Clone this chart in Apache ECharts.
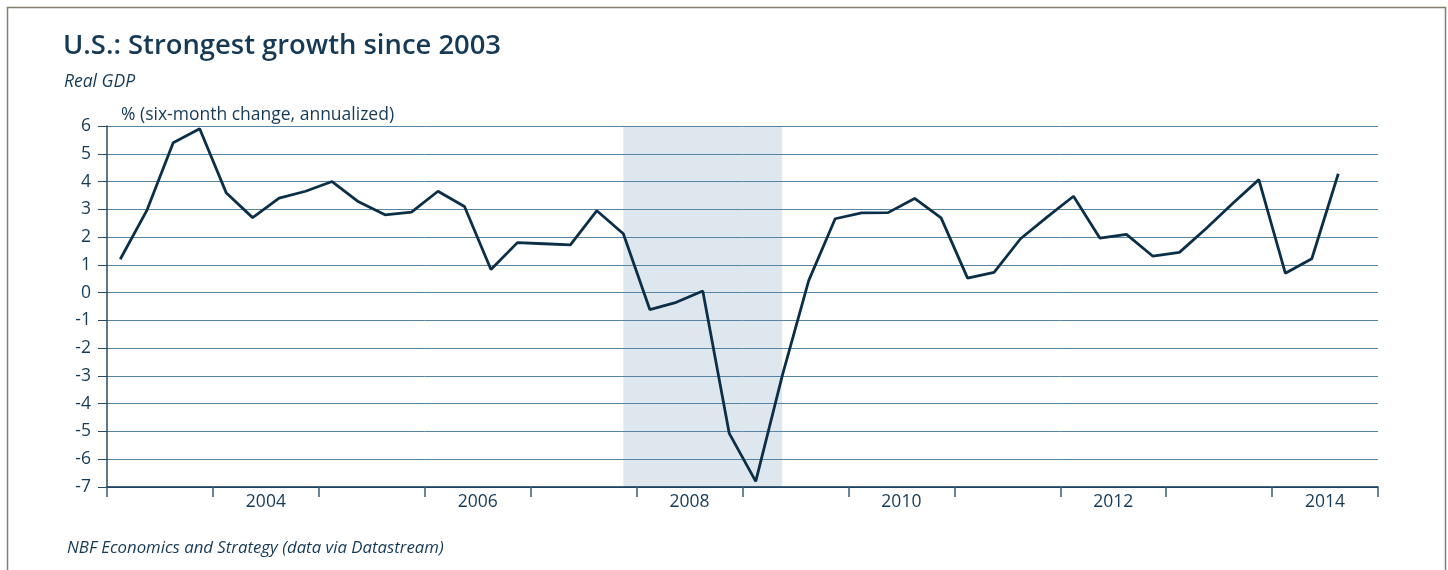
<!DOCTYPE html>
<html>
<head>
<meta charset="utf-8">
<script src="https://cdn.jsdelivr.net/npm/echarts@6/dist/echarts.min.js"></script>
<style>
  html, body { margin: 0; padding: 0; background: #fff; }
  #chart { width: 1448px; height: 570px; }
</style>
</head>
<body>
<div id="chart"></div>
<script>
// quarterly real GDP, six-month change annualized (%)
const years = [2003, 2004, 2005, 2006, 2007, 2008, 2009, 2010, 2011, 2012, 2013, 2014]
const gdp = [
  1.2, 2.95, 5.4, 5.9,
  3.6, 2.7, 3.4, 3.65,
  4.0, 3.27, 2.8, 2.9,
  3.65, 3.1, 0.83, 1.8,
  1.76, 1.72, 2.95, 2.12,
  -0.61, -0.35, 0.06, -5.07,
  -6.8, -3.0, 0.43, 2.66,
  2.87, 2.88, 3.39, 2.69,
  0.52, 0.73, 1.94, 2.72,
  3.47, 1.96, 2.1, 1.31,
  1.45, 2.3, 3.2, 4.07,
  0.7, 1.22, 4.28
]
const yTicks = [-7, -6, -5, -4, -3, -2, -1, 0, 1, 2, 3, 4, 5, 6]
// recession shading: first and last quarter
const recession = [[2007, 4], [2009, 2]]

const textColor = '#163a56'
const lineColor = '#0c2f48'
const font = 'Open Sans'

// quarter -> position in years (middle of quarter)
function qPos(year, q) {
    return year + (q - 0.5) / 4
}

const seriesData = gdp.map((v, i) => {
    return [qPos(years[Math.floor(i / 4)], (i % 4) + 1), v]
})

const chart = echarts.init(document.getElementById('chart'))
const option = {
    backgroundColor: '#fff',
    animation: false,
    textStyle: { fontFamily: font },
    title: [
        {
            text: 'U.S.: Strongest growth since 2003',
            left: 58, top: 28,
            textStyle: { fontFamily: font, fontSize: 27.4, fontWeight: 600, color: textColor }
        },
        {
            text: 'Real GDP',
            left: 59, top: 68,
            textStyle: { fontFamily: font, fontSize: 17.5, fontStyle: 'italic', fontWeight: 'normal', color: textColor }
        },
        {
            text: '% (six-month change, annualized)',
            left: 116, top: 101,
            textStyle: { fontFamily: font, fontSize: 17.5, fontWeight: 'normal', color: textColor }
        },
        {
            text: 'NBF Economics and Strategy (data via Datastream)',
            left: 62, top: 535,
            textStyle: { fontFamily: font, fontSize: 16.8, fontStyle: 'italic', fontWeight: 'normal', color: textColor }
        }
    ],
    graphic: [
        {
            type: 'rect',
            shape: { x: 7.5, y: 7.5, width: 1438, height: 620 },
            style: { fill: null, stroke: '#857d6d', lineWidth: 1.5 },
            silent: true
        }
    ],
    grid: { left: 107, right: 70, top: 126, bottom: 83 },
    xAxis: [
        {
            type: 'value',
            min: years[0],
            max: years[years.length - 1] + 1,
            interval: 1,
            position: 'bottom',
            z: 2,
            axisLine: { show: true, onZero: false, lineStyle: { color: lineColor, width: 1.5 } },
            axisTick: { show: true, length: 10, lineStyle: { color: '#3d5f78', width: 1.5 } },
            axisLabel: { show: false },
            splitLine: { show: false }
        },
        {
            type: 'value',
            min: years[0],
            max: years[years.length - 1] + 1,
            interval: 0.5,
            position: 'bottom',
            axisLine: { show: false },
            axisTick: { show: false },
            splitLine: { show: false },
            axisLabel: {
                margin: 6,
                fontFamily: font,
                fontSize: 17.5,
                color: textColor,
                formatter: function(v) {
                    const y = Math.floor(v)
                    return (v - y === 0.5 && y % 2 === 0) ? String(y) : ''
                }
            }
        }
    ],
    yAxis: {
        type: 'value',
        min: yTicks[0],
        max: yTicks[yTicks.length - 1],
        interval: 1,
        z: 2,
        axisLine: { show: true, lineStyle: { color: '#2b4a62', width: 1.5 } },
        axisTick: { show: true, length: 9, lineStyle: { color: '#2b4a62' } },
        axisLabel: { margin: 16, fontFamily: font, fontSize: 17.5, color: textColor },
        splitLine: { show: true, lineStyle: { color: '#5684a4', width: 1 } }
    },
    series: [
        {
            type: 'line',
            xAxisIndex: 0,
            data: seriesData,
            z: 3,
            symbol: 'none',
            lineStyle: { color: lineColor, width: 2.8 },
            markArea: {
                silent: true,
                z: 1,
                itemStyle: { color: '#dfe7ee' },
                data: [[
                    { xAxis: qPos(recession[0][0], recession[0][1]) },
                    { xAxis: qPos(recession[1][0], recession[1][1]) }
                ]]
            }
        }
    ]
}
chart.setOption(option)
</script>
</body>
</html>
